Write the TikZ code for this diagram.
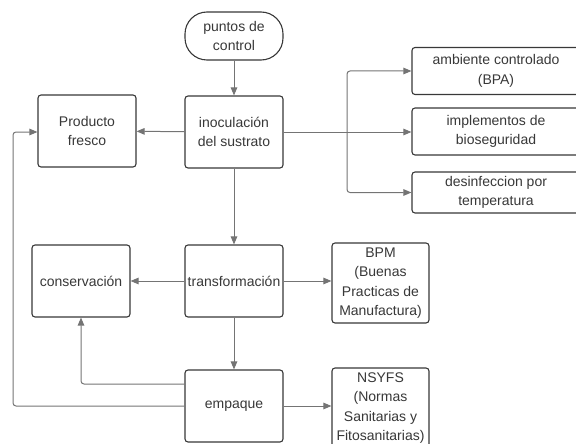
\documentclass[tikz,border=0pt]{standalone}
\usepackage{fontspec}
\setmainfont{Liberation Sans}
\usetikzlibrary{arrows.meta}
\definecolor{linegray}{HTML}{747474}
\definecolor{boxgray}{HTML}{383838}
\tikzset{
  box/.style={draw=boxgray, line width=1.1pt, rounded corners=3pt, fill=white,
    minimum width=98pt, minimum height=72pt, align=center, inner sep=1pt,
    font=\fontsize{14}{19.5}\selectfont, text=boxgray},
  pill/.style={box, minimum height=48pt, rounded corners=22pt},
  sidebox/.style={box, minimum width=168pt, minimum height=47pt},
  conn/.style={draw=linegray, line width=1pt, rounded corners=3pt,
    -{Triangle[length=8pt,width=6.5pt]}, fill=none},
  plainline/.style={draw=linegray, line width=1pt, rounded corners=3pt}
}
\begin{document}
\begin{tikzpicture}[x=1pt,y=-1pt]
\useasboundingbox (0,0) rectangle (576,444);
% nodes
\node[pill] (control) at (234,36) {puntos de\\control};
\node[box] (inoc) at (234,132) {inoculación\\del sustrato};
\node[box] (fresco) at (87,131) {Producto\\fresco};
\node[sidebox] (amb) at (496,71) {ambiente controlado\\(BPA)};
\node[sidebox] (impl) at (496,131.5) {implementos de\\bioseguridad};
\node[sidebox, minimum height=41pt] (desinf) at (496,192.5) {desinfeccion por\\temperatura};
\node[box] (transf) at (234,281) {transformación};
\node[box] (conserv) at (81,281) {conservación};
\node[box, minimum width=97pt, minimum height=80pt] (bpm) at (380.5,283) {BPM\\(Buenas\\Practicas de\\Manufactura)};
\node[box] (empaque) at (234,406) {empaque};
\node[box, minimum width=97pt, minimum height=80pt] (nsyfs) at (380.5,408) {NSYFS\\(Normas\\Sanitarias y\\Fitosanitarias)};
% branch point
\coordinate (split) at (347,132);
% connectors
\draw[conn] (control) -- (inoc);
\draw[conn] (inoc) -- (fresco);
\draw[plainline] (inoc.east) -- (split);
\draw[conn] (split) |- (amb.west);
\draw[conn] (split) -- (impl.west |- split);
\draw[conn] (split) |- (desinf.west);
\draw[conn] (inoc) -- (transf);
\draw[conn] (transf) -- (conserv);
\draw[conn] (transf) -- (bpm.west |- transf);
\draw[conn] (transf) -- (empaque);
\draw[conn] ([yshift=22pt]empaque.west) -| (conserv.south);
\draw[conn] (empaque.west) -- (13,406) -- (13,132) -- (fresco.west |- 0,132);
\draw[conn] (empaque) -- (nsyfs.west |- empaque);
\end{tikzpicture}
\end{document}
